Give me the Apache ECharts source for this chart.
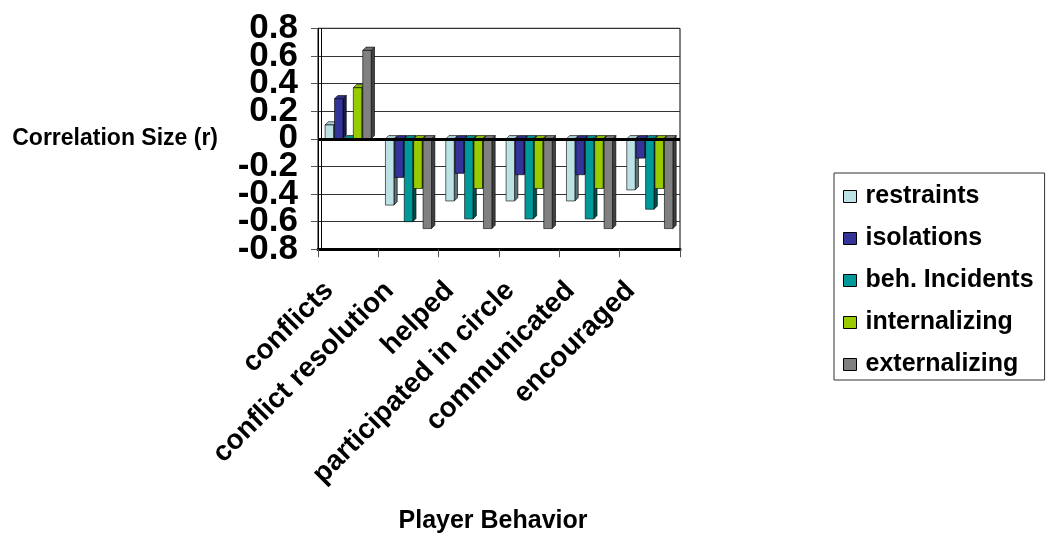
<!DOCTYPE html>
<html>
<head>
<meta charset="utf-8">
<style>
  html, body { margin: 0; padding: 0; background: #ffffff; }
  #chart { width: 1053px; height: 537px; }
</style>
<script src="https://cdn.jsdelivr.net/npm/echarts@6/dist/echarts.min.js"></script>
</head>
<body>
<div id="chart"></div>
<script>
// Player behaviours on the category axis
const categories = ['conflicts', 'conflict resolution', 'helped', 'participated in circle', 'communicated', 'encouraged'];

// Correlation (r) of each outcome with the player behaviours
const restraints    = [0.10, -0.48, -0.45, -0.45, -0.45, -0.37];
const isolations    = [0.29, -0.28, -0.25, -0.26, -0.26, -0.14];
const behIncidents  = [0.00, -0.60, -0.58, -0.58, -0.58, -0.51];
const internalizing = [0.37, -0.36, -0.36, -0.36, -0.36, -0.36];
const externalizing = [0.64, -0.65, -0.65, -0.65, -0.65, -0.65];

const seriesNames  = ['restraints', 'isolations', 'beh. Incidents', 'internalizing', 'externalizing'];
const seriesValues = [restraints, isolations, behIncidents, internalizing, externalizing];
const seriesColors = ['#BCE2E6', '#333399', '#009999', '#99CC00', '#808080'];

// Value axis ticks
const yMin = -0.8, yMax = 0.8, yStep = 0.2;

const FONT = '"Liberation Sans", Arial, sans-serif';

function shade(hex, f) {
  const n = parseInt(hex.slice(1), 16);
  const r = Math.round(((n >> 16) & 255) * f);
  const g = Math.round(((n >> 8) & 255) * f);
  const b = Math.round((n & 255) * f);
  return 'rgb(' + r + ',' + g + ',' + b + ')';
}

function tickText(v) { return String(Math.round(v * 10) / 10); }
function isEnd(v) { return Math.abs(v - yMin) < 1e-9 || Math.abs(v - yMax) < 1e-9; }

// Draws one column of a clustered set with a shallow 3-D look
// (front face, right side face, top face), positioned from the axes.
function makeRenderer(idx, color) {
  const side = shade(color, 0.5);
  const top = shade(color, 0.9);
  return function (params, api) {
    const cat = api.value(0);
    const val = api.value(1);
    const pv = api.coord([cat, val]);
    const p0 = api.coord([cat, 0]);
    const catW = api.size([1, 0])[0];
    const pitch = catW * 0.156;
    const w = pitch * 0.9;
    const d = pitch * 0.35;
    const xl = p0[0] + (idx - 2.45) * pitch;
    const xr = xl + w;
    const yTop = Math.min(pv[1], p0[1]);
    const yBot = Math.max(pv[1], p0[1]);
    const stroke = { stroke: '#000', lineWidth: 0.6 };
    return {
      type: 'group',
      children: [
        {
          type: 'polygon',
          shape: { points: [[xr, yTop], [xr + d, yTop - d], [xr + d, yBot - d], [xr, yBot]] },
          style: Object.assign({ fill: side }, stroke)
        },
        {
          type: 'polygon',
          shape: { points: [[xl, yTop], [xl + d, yTop - d], [xr + d, yTop - d], [xr, yTop]] },
          style: Object.assign({ fill: top }, stroke)
        },
        {
          type: 'rect',
          shape: { x: xl, y: yTop, width: w, height: yBot - yTop },
          style: Object.assign({ fill: color }, stroke)
        }
      ]
    };
  };
}

const series = seriesNames.map(function (name, i) {
  const s = {
    name: name,
    type: 'custom',
    renderItem: makeRenderer(i, seriesColors[i]),
    itemStyle: { color: seriesColors[i] },
    encode: { x: 0, y: 1 },
    data: seriesValues[i].map(function (v, c) { return [c, v]; }),
    z: 2 + i
  };
  if (i === seriesNames.length - 1) {
    // heavy zero line (floor of the columns)
    s.markLine = {
      silent: true,
      symbol: 'none',
      label: { show: false },
      lineStyle: { color: '#000', width: 3, type: 'solid' },
      data: [{ yAxis: 0 }],
      z: 20
    };
  }
  return s;
});

const yLabelStyle = {
  margin: 20,
  fontFamily: FONT, fontWeight: 'bold', fontSize: 35, color: '#000'
};

const chart = echarts.init(document.getElementById('chart'), null, { renderer: 'canvas' });
chart.setOption({
  animation: false,
  backgroundColor: '#ffffff',
  textStyle: { fontFamily: FONT },
  grid: {
    left: 318, right: 373, top: 28.3, bottom: 287.7,
    show: true, borderColor: '#000', borderWidth: 1
  },
  legend: {
    orient: 'vertical',
    left: 834,
    top: 173,
    padding: [11, 11, 3, 9],
    itemGap: 17,
    itemWidth: 13,
    itemHeight: 12,
    borderColor: '#333',
    borderWidth: 1,
    textStyle: {
      fontFamily: FONT, fontWeight: 'bold', fontSize: 25, lineHeight: 25,
      color: '#000', padding: [0, 0, 0, 4]
    },
    data: seriesNames.map(function (n, i) {
      return {
        name: n, icon: 'rect',
        itemStyle: { color: seriesColors[i], borderColor: '#000', borderWidth: 1 }
      };
    })
  },
  xAxis: {
    type: 'category',
    data: categories,
    name: 'Player Behavior',
    nameLocation: 'middle',
    nameGap: 259,
    nameTextStyle: {
      fontFamily: FONT, fontWeight: 'bold', fontSize: 25, color: '#000',
      padding: [0, 12, 0, 0]
    },
    axisLine: { onZero: false, lineStyle: { color: '#000', width: 3 } },
    axisTick: { show: true, length: 8, lineStyle: { color: '#555', width: 1 } },
    axisLabel: {
      interval: 0, rotate: 45, margin: 18,
      padding: [0, 27, 0, 0],
      fontFamily: FONT, fontWeight: 'bold', fontSize: 28, color: '#000'
    },
    splitLine: { show: false }
  },
  yAxis: [
    {
      // main value axis: inner tick labels, ticks and grid lines
      type: 'value',
      min: yMin, max: yMax, interval: yStep,
      name: 'Correlation Size (r)',
      nameLocation: 'middle',
      nameRotate: 0,
      nameGap: 100,
      nameTextStyle: {
        fontFamily: FONT, fontWeight: 'bold', fontSize: 23, color: '#000',
        padding: [0, 0, 6, 0]
      },
      axisLine: { show: true, lineStyle: { color: '#000', width: 1 } },
      axisTick: { show: true, length: 7, lineStyle: { color: '#555', width: 1 } },
      axisLabel: Object.assign({
        formatter: function (v) { return isEnd(v) ? '' : tickText(v); }
      }, yLabelStyle),
      splitLine: { show: true, lineStyle: { color: '#333', width: 1 } }
    },
    {
      // end labels (0.8 and -0.8) of the same scale
      type: 'value',
      min: yMin, max: yMax, interval: yStep,
      position: 'left',
      offset: 0,
      axisLine: { show: false },
      axisTick: { show: false },
      axisLabel: Object.assign({
        formatter: function (v) { return isEnd(v) ? tickText(v) : ''; }
      }, yLabelStyle),
      splitLine: { show: false }
    },
    {
      // inner edge of the side wall
      type: 'value',
      min: yMin, max: yMax, interval: yStep,
      position: 'left',
      offset: -3,
      axisLine: { show: true, lineStyle: { color: '#000', width: 1 } },
      axisTick: { show: false },
      axisLabel: { show: false },
      splitLine: { show: false }
    }
  ],
  series: series
});
</script>
</body>
</html>
